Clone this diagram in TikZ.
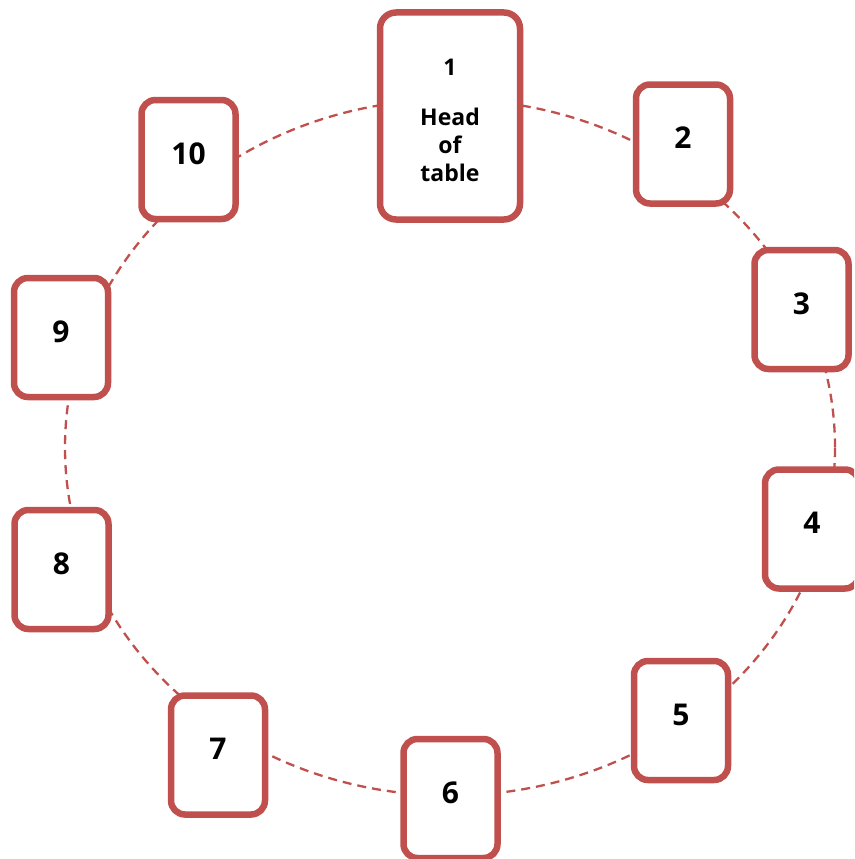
\documentclass[tikz,border=0pt]{standalone}
\usepackage{fontspec}
\setmainfont{Open Sans}
\usetikzlibrary{backgrounds}
\definecolor{boxred}{HTML}{C0504D}
\tikzset{
  card/.style={draw=boxred, line width=6.5pt, fill=white, rounded corners=14pt,
    minimum width=94pt, minimum height=119pt, inner sep=0pt,
    font=\fontsize{30}{30}\selectfont\bfseries, text height=22pt, text depth=13pt},
  headcard/.style={draw=boxred, line width=6.5pt, fill=white, rounded corners=16pt,
    minimum width=140pt, minimum height=207pt, inner sep=0pt, align=center,
    font=\fontsize{23}{28}\selectfont\bfseries},
  ring/.style={draw=boxred, line width=2.3pt, dash pattern=on 9pt off 6pt}
}
\begin{document}
\begin{tikzpicture}[x=1pt,y=-1pt]
\clip (0,0) rectangle (854,859);
\useasboundingbox (0,0) rectangle (854,859);
\node[headcard] (n1) at (450,116) {\rule{0pt}{25pt}1\\[22pt]Head\\of\\table};
\node[card] (n2) at (683,144) {2};
\node[card] (n3) at (801.5,309.5) {3};
\node[card] (n4) at (812,529) {4};
\node[card] (n5) at (681,720.5) {5};
\node[card] (n6) at (450.5,798.5) {6};
\node[card] (n7) at (218,755) {7};
\node[card] (n8) at (61.5,569.5) {8};
\node[card] (n9) at (61,337.5) {9};
\node[card] (n10) at (188.5,159.5) {10};
\begin{scope}[on background layer]
\coordinate (ringc) at (450,447.5);
\draw[ring] (ringc) ellipse [x radius=385pt, y radius=348pt];
\end{scope}
\end{tikzpicture}
\end{document}
